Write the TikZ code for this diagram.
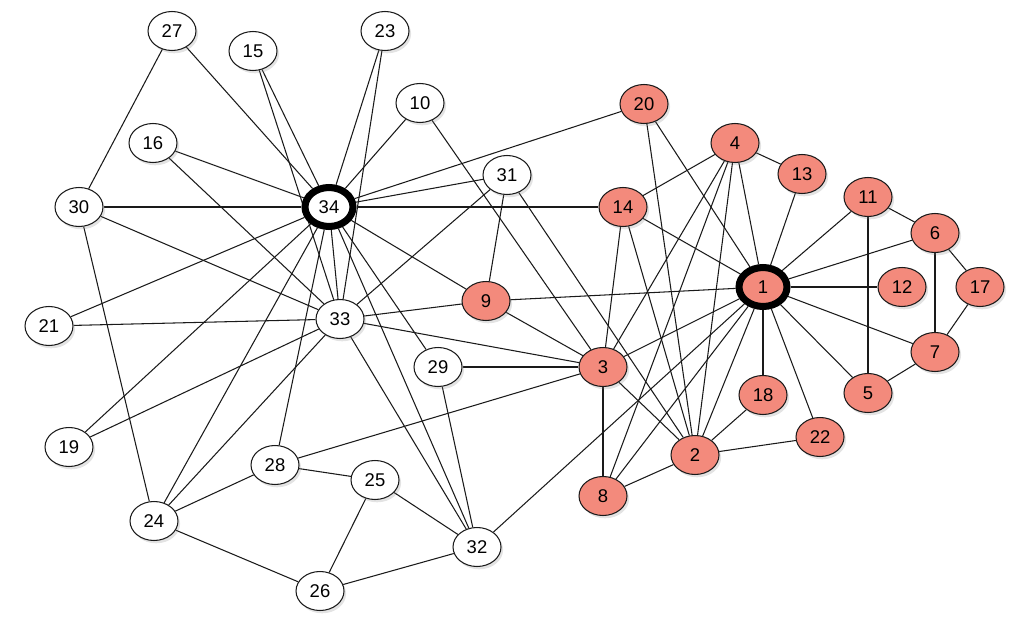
\documentclass[tikz,border=0pt]{standalone}
\usepackage{fontspec}
\setmainfont{Liberation Sans}
\usepackage{tikz}
\usetikzlibrary{shapes.geometric,shadows,backgrounds}
\definecolor{ClubSalmon}{HTML}{F38A7C}
\definecolor{ClubLine}{HTML}{1A1A1A}
\tikzset{
  member/.style={ellipse,draw=ClubLine,line width=0.6pt,fill=white,minimum width=0.96cm,minimum height=0.78cm,inner sep=0pt,font=\fontsize{10.5}{12}\selectfont,drop shadow={shadow xshift=1.2pt,shadow yshift=-1.6pt,opacity=0.22}},
  faction/.style={member,fill=ClubSalmon},
  leader/.style={line width=4pt,draw=black},
  tie/.style={line width=0.6pt,color=ClubLine},
}

\begin{document}
\begin{tikzpicture}[x=0.02cm,y=-0.02cm]
  \useasboundingbox (0,0) rectangle (1024,632);

  % instructor side
  \node[faction, leader] (m1) at (763,287) {1};
  \node[faction] (m2) at (695,455) {2};
  \node[faction] (m3) at (603,367) {3};
  \node[faction] (m4) at (735,143) {4};
  \node[faction] (m5) at (868,393) {5};
  \node[faction] (m6) at (935,233) {6};
  \node[faction] (m7) at (935,352) {7};
  \node[faction] (m8) at (603,496) {8};
  \node[faction] (m9) at (486,301) {9};
  \node[faction] (m11) at (868,197) {11};
  \node[faction] (m12) at (902,287) {12};
  \node[faction] (m13) at (802,174) {13};
  \node[faction] (m14) at (623,207) {14};
  \node[faction] (m17) at (980,287) {17};
  \node[faction] (m18) at (763,395) {18};
  \node[faction] (m20) at (644,104) {20};
  \node[faction] (m22) at (820,437) {22};

  % administrator side
  \node[member] (m10) at (420,103) {10};
  \node[member] (m15) at (253,51) {15};
  \node[member] (m16) at (153,143) {16};
  \node[member] (m19) at (69,447) {19};
  \node[member] (m21) at (49,326) {21};
  \node[member] (m23) at (385,31) {23};
  \node[member] (m24) at (154,521) {24};
  \node[member] (m25) at (375,480) {25};
  \node[member] (m26) at (320,591) {26};
  \node[member] (m27) at (172,31) {27};
  \node[member] (m28) at (275,465) {28};
  \node[member] (m29) at (438,367) {29};
  \node[member] (m30) at (79,207) {30};
  \node[member] (m31) at (507,175) {31};
  \node[member] (m32) at (477,547) {32};
  \node[member] (m33) at (340,319) {33};
  \node[member, leader] (m34) at (329,207) {34};

  \begin{scope}[on background layer]
  \draw[tie] (m1) -- (m2);
  \draw[tie] (m1) -- (m3);
  \draw[tie] (m1) -- (m4);
  \draw[tie] (m1) -- (m5);
  \draw[tie] (m1) -- (m6);
  \draw[tie] (m1) -- (m7);
  \draw[tie] (m1) -- (m8);
  \draw[tie] (m1) -- (m9);
  \draw[tie] (m1) -- (m11);
  \draw[tie] (m1) -- (m12);
  \draw[tie] (m1) -- (m13);
  \draw[tie] (m1) -- (m14);
  \draw[tie] (m1) -- (m18);
  \draw[tie] (m1) -- (m20);
  \draw[tie] (m1) -- (m22);
  \draw[tie] (m1) -- (m32);
  \draw[tie] (m2) -- (m3);
  \draw[tie] (m2) -- (m4);
  \draw[tie] (m2) -- (m8);
  \draw[tie] (m2) -- (m14);
  \draw[tie] (m2) -- (m18);
  \draw[tie] (m2) -- (m20);
  \draw[tie] (m2) -- (m22);
  \draw[tie] (m2) -- (m31);
  \draw[tie] (m3) -- (m4);
  \draw[tie] (m3) -- (m8);
  \draw[tie] (m3) -- (m9);
  \draw[tie] (m3) -- (m10);
  \draw[tie] (m3) -- (m14);
  \draw[tie] (m3) -- (m28);
  \draw[tie] (m3) -- (m29);
  \draw[tie] (m3) -- (m33);
  \draw[tie] (m4) -- (m8);
  \draw[tie] (m4) -- (m13);
  \draw[tie] (m4) -- (m14);
  \draw[tie] (m5) -- (m7);
  \draw[tie] (m5) -- (m11);
  \draw[tie] (m6) -- (m7);
  \draw[tie] (m6) -- (m11);
  \draw[tie] (m6) -- (m17);
  \draw[tie] (m7) -- (m17);
  \draw[tie] (m9) -- (m31);
  \draw[tie] (m9) -- (m33);
  \draw[tie] (m9) -- (m34);
  \draw[tie] (m10) -- (m34);
  \draw[tie] (m14) -- (m34);
  \draw[tie] (m15) -- (m33);
  \draw[tie] (m15) -- (m34);
  \draw[tie] (m16) -- (m33);
  \draw[tie] (m16) -- (m34);
  \draw[tie] (m19) -- (m33);
  \draw[tie] (m19) -- (m34);
  \draw[tie] (m20) -- (m34);
  \draw[tie] (m21) -- (m33);
  \draw[tie] (m21) -- (m34);
  \draw[tie] (m23) -- (m33);
  \draw[tie] (m23) -- (m34);
  \draw[tie] (m24) -- (m26);
  \draw[tie] (m24) -- (m28);
  \draw[tie] (m24) -- (m30);
  \draw[tie] (m24) -- (m33);
  \draw[tie] (m24) -- (m34);
  \draw[tie] (m25) -- (m26);
  \draw[tie] (m25) -- (m28);
  \draw[tie] (m25) -- (m32);
  \draw[tie] (m26) -- (m32);
  \draw[tie] (m27) -- (m30);
  \draw[tie] (m27) -- (m34);
  \draw[tie] (m28) -- (m34);
  \draw[tie] (m29) -- (m32);
  \draw[tie] (m29) -- (m34);
  \draw[tie] (m30) -- (m33);
  \draw[tie] (m30) -- (m34);
  \draw[tie] (m31) -- (m33);
  \draw[tie] (m31) -- (m34);
  \draw[tie] (m32) -- (m33);
  \draw[tie] (m32) -- (m34);
  \draw[tie] (m33) -- (m34);
  \end{scope}
\end{tikzpicture}
\end{document}
